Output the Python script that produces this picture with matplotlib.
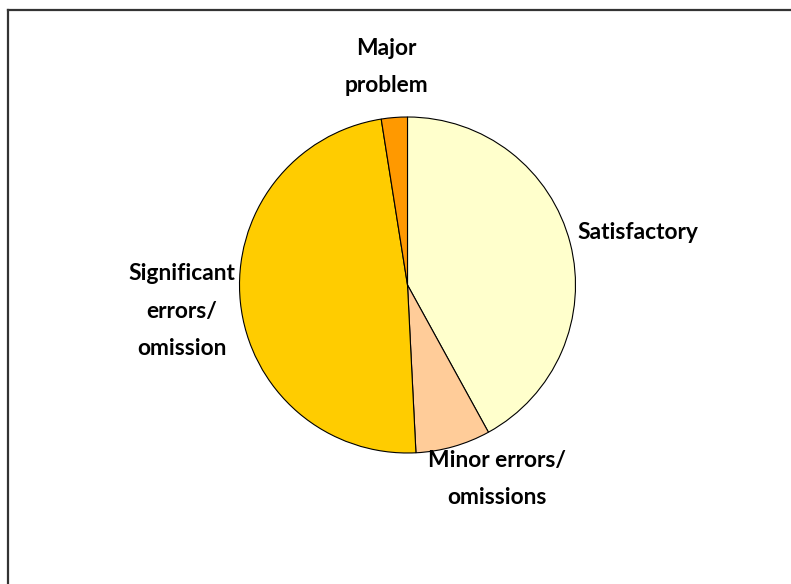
import matplotlib.pyplot as plt
from matplotlib.lines import Line2D

labels = ['Satisfactory', 'Minor errors/\nomissions', 'Significant\nerrors/\nomission', 'Major\nproblem']
values = [42.0, 7.2, 48.3, 2.5]
colors = ['#FFFFCC', '#FFCC99', '#FFCC00', '#FF9900']

# label spots, in pie radius units from the centre
label_pos = [(1.01, 0.31, 'left'), (0.53, -1.155, 'center'),
             (-1.342, -0.155, 'center'), (-0.128, 1.30, 'center')]

plt.rcParams['font.family'] = ['Lato', 'DejaVu Sans']

fig = plt.figure(figsize=(7.91, 5.84), dpi=100)
ax = fig.add_axes([239.5/791, 131/584, 336/791, 336/584])

wedges, _ = ax.pie(values, colors=colors, startangle=90, counterclock=False,
                   wedgeprops=dict(edgecolor='black', linewidth=0.8))
ax.set_xlim(-1, 1)
ax.set_ylim(-1, 1)
ax.set_aspect('equal')
ax.axis('off')

for lab, (x, y, ha) in zip(labels, label_pos):
    ax.text(x, y, lab, ha=ha, va='center', fontsize=16.4, fontweight='bold',
            linespacing=1.95, clip_on=False)

# frame (cut at right and bottom like the source)
fig.add_artist(Line2D([8/791, 1], [1 - 10/584, 1 - 10/584], color='#333333', lw=1.6,
                      transform=fig.transFigure))
fig.add_artist(Line2D([8/791, 8/791], [0, 1 - 10/584], color='#333333', lw=1.6,
                      transform=fig.transFigure))

fig.savefig('out.png', dpi=100)
